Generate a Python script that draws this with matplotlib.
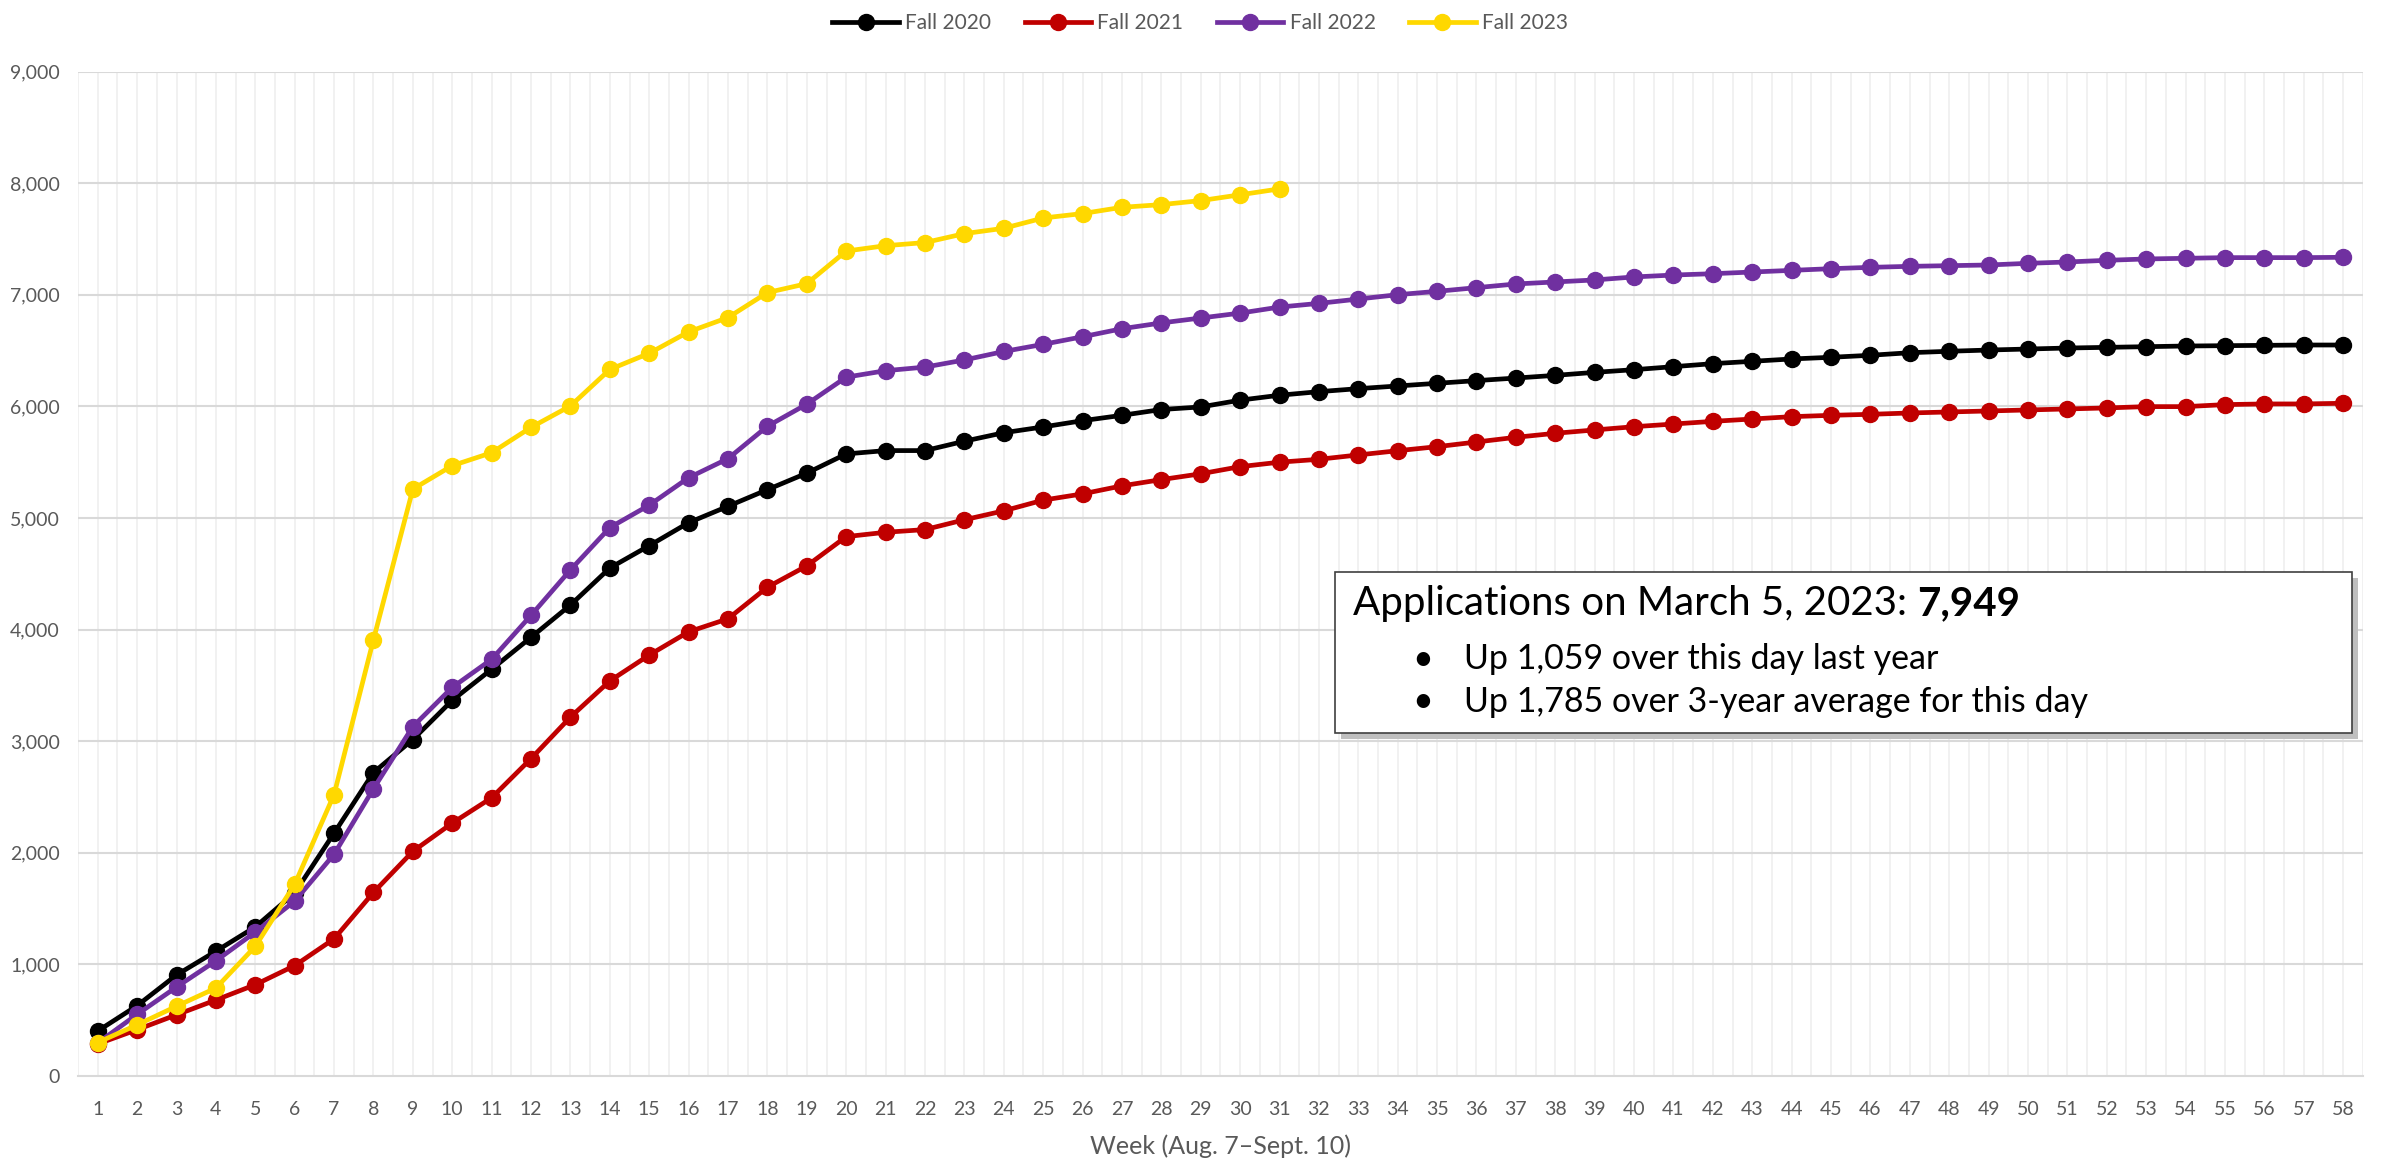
import numpy as np
import matplotlib.pyplot as plt
from matplotlib.patches import Rectangle

plt.rcParams['font.family'] = ['Lato', 'DejaVu Sans']

weeks = list(range(1, 59))

fall_2020 = [403, 630, 905, 1118, 1336, 1640, 2176, 2719, 3015, 3366,
             3645, 3931, 4220, 4552, 4752, 4958, 5105, 5254, 5402, 5574,
             5604, 5604, 5688, 5764, 5816, 5872, 5920, 5972, 5995, 6056,
             6100, 6132, 6159, 6183, 6207, 6231, 6254, 6278, 6305, 6329,
             6356, 6383, 6404, 6425, 6440, 6458, 6481, 6494, 6505, 6514,
             6523, 6529, 6535, 6541, 6544, 6547, 6550, 6550]

fall_2021 = [287, 415, 548, 681, 818, 989, 1229, 1645, 2013, 2266,
             2493, 2844, 3216, 3540, 3772, 3980, 4097, 4380, 4571, 4833,
             4872, 4896, 4984, 5064, 5160, 5216, 5288, 5344, 5396, 5460,
             5500, 5526, 5565, 5603, 5639, 5681, 5723, 5759, 5789, 5818,
             5842, 5866, 5887, 5908, 5920, 5929, 5941, 5950, 5959, 5968,
             5977, 5986, 5998, 5998, 6016, 6022, 6022, 6028]

fall_2022 = [296, 552, 797, 1032, 1289, 1567, 1987, 2574, 3131, 3482,
             3734, 4128, 4535, 4914, 5115, 5361, 5532, 5822, 6020, 6262,
             6320, 6352, 6416, 6492, 6556, 6624, 6696, 6748, 6792, 6836,
             6890, 6923, 6962, 7001, 7031, 7064, 7097, 7115, 7133, 7160,
             7177, 7189, 7204, 7219, 7234, 7246, 7255, 7261, 7267, 7282,
             7294, 7309, 7321, 7327, 7333, 7333, 7333, 7336]

fall_2023 = [300, 458, 625, 788, 1161, 1717, 2522, 3910, 5259, 5469,
             5585, 5812, 6004, 6331, 6476, 6668, 6796, 7020, 7100, 7392,
             7440, 7468, 7548, 7596, 7688, 7728, 7784, 7808, 7844, 7896,
             7949]

series = [("Fall 2020", fall_2020, "#000000"),
          ("Fall 2021", fall_2021, "#C00000"),
          ("Fall 2022", fall_2022, "#7030A0"),
          ("Fall 2023", fall_2023, "#FFD800")]

W, H = 2386, 1166
fig = plt.figure(figsize=(W / 100, H / 100), dpi=100)
ax = fig.add_axes([0.0327, 0.0772, 0.9576, 0.8614])

for label, vals, color in series:
    ax.plot(weeks[:len(vals)], vals, color=color, linewidth=3.4,
            marker='o', markersize=11.5, label=label)

ax.set_xlim(0.5, 58.5)
ax.set_ylim(0, 9000)
ax.set_xticks(weeks)
ax.set_xticklabels([str(w) for w in weeks])
ax.set_yticks(range(0, 9001, 1000))
ax.set_yticklabels(["{:,}".format(v) for v in range(0, 9001, 1000)])
ax.tick_params(axis='both', length=0, labelsize=14, colors="#595959")
ax.tick_params(axis='y', pad=13)
ax.tick_params(axis='x', pad=18)

# grid
for x in np.arange(0.5, 58.51, 0.5):
    ax.axvline(x, color="#efefef", linewidth=1.2, zorder=0)
for y in range(1000, 9001, 1000):
    ax.axhline(y, color="#d9d9d9", linewidth=1.5, zorder=0)

for side in ["top", "right", "left"]:
    ax.spines[side].set_visible(False)
ax.spines["bottom"].set_color("#d9d9d9")
ax.spines["bottom"].set_linewidth(1.5)

ax.set_xlabel("Week (Aug. 7\u2013Sept. 10)", fontsize=18, color="#595959", labelpad=12)

fig.legend(loc="upper center", bbox_to_anchor=(0.503, 1.005), ncol=4, frameon=False,
           fontsize=15, labelcolor="#595959", handlelength=3.2, columnspacing=1.6,
           handletextpad=0.3)

# annotation box
bx0, by0 = 1335 / W, 1 - 733 / H
bw, bh = (2352 - 1335) / W, (733 - 572) / H
fig.patches.append(Rectangle((bx0 + 0.0025, by0 - 0.005), bw, bh, transform=fig.transFigure,
                             facecolor="#bfbfbf", edgecolor="none", zorder=5))
fig.patches.append(Rectangle((bx0, by0), bw, bh, transform=fig.transFigure,
                             facecolor="white", edgecolor="#404040", linewidth=1.2, zorder=6))

t1 = fig.text(1353 / W, 1 - 604 / H, "Applications on March 5, 2023: ", fontsize=29,
              va="center", ha="left", zorder=7)
fig.canvas.draw()
ext = t1.get_window_extent()
fig.text(ext.x1 / fig.bbox.width, 1 - 604 / H, "7,949", fontsize=29, fontweight="bold",
         va="center", ha="left", zorder=7)
fig.text(1412 / W, 1 - 659 / H, "\u2022", fontsize=26, va="center", ha="left", zorder=7)
fig.text(1464 / W, 1 - 659 / H, "Up 1,059 over this day last year", fontsize=24.5,
         va="center", ha="left", zorder=7)
fig.text(1412 / W, 1 - 702 / H, "\u2022", fontsize=26, va="center", ha="left", zorder=7)
fig.text(1464 / W, 1 - 702 / H, "Up 1,785 over 3-year average for this day", fontsize=24.5,
         va="center", ha="left", zorder=7)

plt.savefig("out.png", dpi=100)
